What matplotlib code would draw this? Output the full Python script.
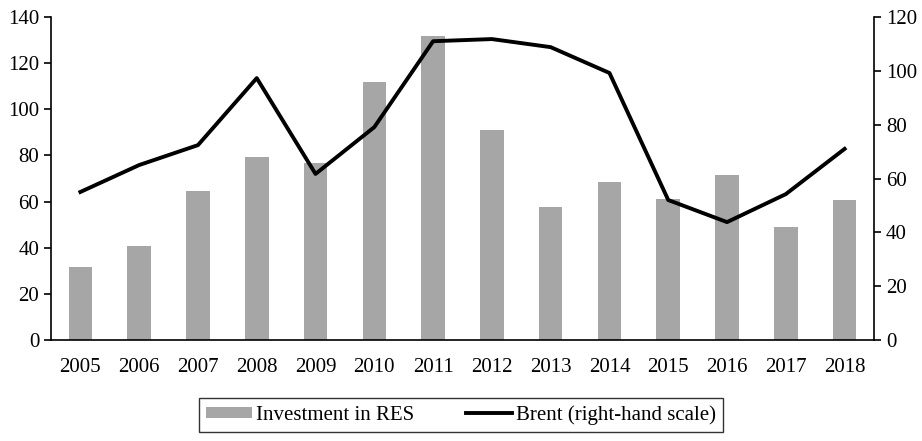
import matplotlib.pyplot as plt
import numpy as np

plt.rcParams['font.family'] = ['Liberation Serif', 'DejaVu Serif']

years = ['2005', '2006', '2007', '2008', '2009', '2010', '2011',
         '2012', '2013', '2014', '2015', '2016', '2017', '2018']
investment = [31.6, 40.7, 64.6, 79.3, 76.7, 111.8, 131.8,
              91.0, 57.6, 68.5, 61.1, 71.5, 49.0, 60.7]
brent = [55.0, 65.0, 72.4, 97.3, 61.7, 79.1, 111.0,
         111.8, 108.8, 99.2, 52.0, 43.8, 54.2, 71.0]

x = np.arange(len(years))

fig = plt.figure(figsize=(9.22, 4.41), dpi=100)
ax = fig.add_axes([51 / 922, 1 - 340 / 441, (874 - 51) / 922, (340 - 17) / 441])
ax2 = ax.twinx()

b = ax.bar(x, investment, width=0.4, color='#a6a6a6', label='Investment in RES', zorder=2)
l, = ax2.plot(x, brent, color='black', lw=2.8, label='Brent (right-hand scale)', zorder=3)

ax.set_xlim(-0.5, len(years) - 0.5)
ax.set_ylim(0, 140)
ax.set_yticks(range(0, 141, 20))
ax2.set_ylim(0, 120)
ax2.set_yticks(range(0, 121, 20))
ax.set_xticks(x)
ax.set_xticklabels(years)

for a in (ax, ax2):
    a.spines['top'].set_visible(False)
    a.tick_params(labelsize=15, width=1.2, length=5)
ax.spines['right'].set_visible(False)
ax2.spines['left'].set_visible(False)
ax.spines['left'].set_linewidth(1.2)
ax.spines['bottom'].set_linewidth(1.2)
ax2.spines['right'].set_linewidth(1.2)
ax2.spines['bottom'].set_visible(False)
ax.tick_params(axis='x', length=0, pad=13)

leg = fig.legend([b, l], ['Investment in RES', 'Brent (right-hand scale)'],
                 loc='center', bbox_to_anchor=(461 / 922, 1 - 415 / 441), ncol=2,
                 fontsize=15, frameon=True, fancybox=False, edgecolor='black',
                 handlelength=2.2, handleheight=0.5, handletextpad=0.2,
                 columnspacing=2.5, borderpad=0.35)
leg.get_frame().set_linewidth(1.0)

plt.savefig('out.png', dpi=100)
